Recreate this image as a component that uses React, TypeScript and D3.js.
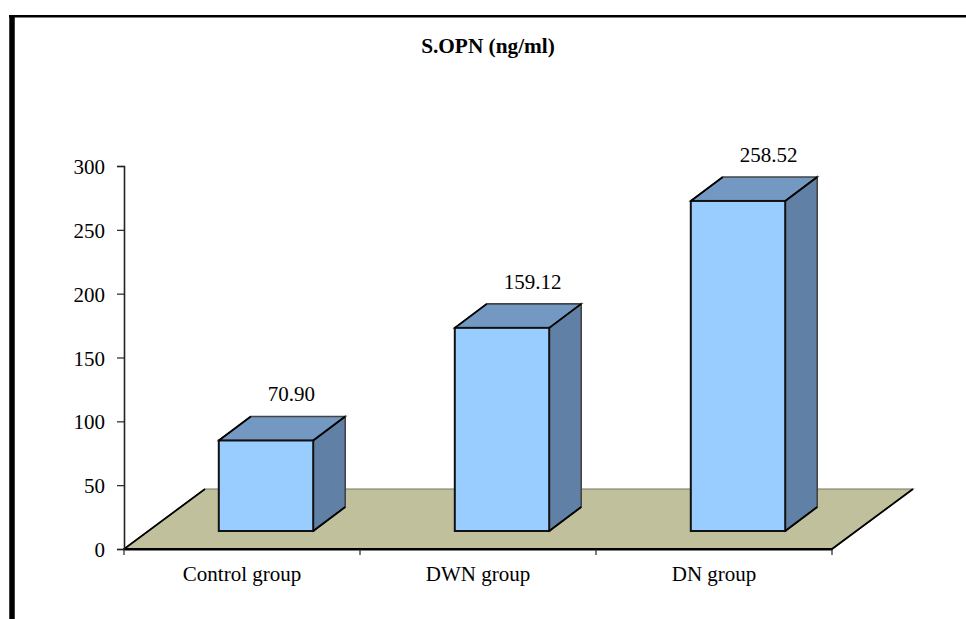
import React, { useEffect, useRef } from 'react';
import * as d3 from 'd3';

const categories = ['Control group', 'DWN group', 'DN group'];
const values = [70.9, 159.12, 258.52];
const valueLabels = ['70.90', '159.12', '258.52'];
const yTicks = [0, 50, 100, 150, 200, 250, 300];
const title = 'S.OPN (ng/ml)';

const width = 966;
const height = 619;
const font = '"Liberation Serif", "Times New Roman", serif';

const App: React.FC = () => {
  const svgRef = useRef<SVGSVGElement>(null);

  useEffect(() => {
    if (!svgRef.current) return;
    const svg = d3.select(svgRef.current);
    svg.selectAll('*').remove();

    const margin = { left: 124, right: 832, top: 166, bottom: 549 };

    // Scales
    const x = d3.scaleBand<string>()
      .domain(categories)
      .range([margin.left, margin.right])
      .paddingInner(0)
      .paddingOuter(0);
    const y = d3.scaleLinear().domain([0, 300]).range([margin.bottom, margin.top]);

    // 3D offsets
    const floorDx = 81;
    const floorDy = -60;
    const barDx = 32;
    const barDy = -24;
    const barLift = 18;
    const barShift = 24;
    const barW = x.bandwidth() * 0.4;

    // Frame
    svg.append('line')
      .attr('x1', 12).attr('x2', 12)
      .attr('y1', 15).attr('y2', height)
      .attr('stroke', '#000').attr('stroke-width', 5.5);
    svg.append('line')
      .attr('x1', 9).attr('x2', width)
      .attr('y1', 16.2).attr('y2', 16.2)
      .attr('stroke', '#000').attr('stroke-width', 2.6);

    // Floor
    const floorPts: [number, number][] = [
      [margin.left, margin.bottom],
      [margin.right, margin.bottom],
      [margin.right + floorDx, margin.bottom + floorDy],
      [margin.left + floorDx, margin.bottom + floorDy]
    ];
    svg.append('polygon')
      .attr('points', floorPts.join(' '))
      .attr('fill', '#C0C09C')
      .attr('stroke', '#77776a')
      .attr('stroke-width', 1.2);
    const floorEdge = d3.line();
    svg.append('path')
      .attr('d', floorEdge([floorPts[3], floorPts[0], floorPts[1], floorPts[2]]))
      .attr('fill', 'none')
      .attr('stroke', '#000')
      .attr('stroke-width', 1.8);

    // Axes
    const yAxis = svg.append('g')
      .attr('transform', `translate(${margin.left},0)`)
      .call(d3.axisLeft(y).tickValues(yTicks).tickSize(7).tickPadding(12).tickFormat(d3.format('d')));
    const xAxis = svg.append('g')
      .attr('transform', `translate(0,${margin.bottom})`)
      .call(d3.axisBottom(x).tickSize(0).tickPadding(17));
    xAxis.select('.domain').attr('stroke', '#000').attr('stroke-width', 1.8);
    xAxis.selectAll('.tick line').remove();
    [margin.left, ...categories.map(c => (x(c) as number) + x.bandwidth())].forEach(tx => {
      xAxis.append('line')
        .attr('x1', tx).attr('x2', tx)
        .attr('y1', 0).attr('y2', 6)
        .attr('stroke', '#222')
        .attr('stroke-width', 1.2);
    });
    yAxis.select('.domain').attr('stroke', '#222').attr('stroke-width', 1.6);
    yAxis.selectAll('.tick line').attr('stroke', '#222').attr('stroke-width', 1.2);
    yAxis.selectAll('.tick text').attr('dy', '0.36em');
    svg.selectAll('.tick text')
      .attr('fill', '#000')
      .style('font-family', font)
      .style('font-size', '21px');

    // Bars
    categories.forEach((c, i) => {
      const x0 = (x(c) as number) + (x.bandwidth() - barW) / 2 + barShift;
      const x1 = x0 + barW;
      const yBase = margin.bottom - barLift;
      const yTop = yBase - (y(0) - y(values[i]));
      const g = svg.append('g');

      g.append('polygon')
        .attr('points', [[x1, yBase], [x1 + barDx, yBase + barDy], [x1 + barDx, yTop + barDy], [x1, yTop]].join(' '))
        .attr('fill', '#6080A6')
        .attr('stroke', '#444')
        .attr('stroke-width', 1.6);
      g.append('polygon')
        .attr('points', [[x0, yTop], [x1, yTop], [x1 + barDx, yTop + barDy], [x0 + barDx, yTop + barDy]].join(' '))
        .attr('fill', '#7399C2')
        .attr('stroke', '#444')
        .attr('stroke-width', 1.6);
      g.append('rect')
        .attr('x', x0).attr('y', yTop)
        .attr('width', barW).attr('height', yBase - yTop)
        .attr('fill', '#99CCFF')
        .attr('stroke', '#111')
        .attr('stroke-width', 2);
      g.append('path')
        .attr('d', `M${x0},${yTop}L${x0 + barDx},${yTop + barDy}M${x1},${yTop}L${x1 + barDx},${yTop + barDy}M${x1},${yBase}L${x1 + barDx},${yBase + barDy}`)
        .attr('fill', 'none')
        .attr('stroke', '#000')
        .attr('stroke-width', 1.8);

      // Value label
      g.append('text')
        .attr('x', x0 + 49)
        .attr('y', yTop + barDy - 15)
        .attr('text-anchor', 'start')
        .style('font-family', font)
        .style('font-size', '21px')
        .text(valueLabels[i]);
    });

    // Title
    svg.append('text')
      .attr('x', 488)
      .attr('y', 53)
      .attr('text-anchor', 'middle')
      .style('font-family', font)
      .style('font-size', '21.3px')
      .style('font-weight', 'bold')
      .text(title);
  }, []);

  return (
    <svg
      ref={svgRef}
      width={width}
      height={height}
      style={{ position: 'absolute', left: 0, top: 0, display: 'block', background: '#fff' }}
    />
  );
};

export default App;
